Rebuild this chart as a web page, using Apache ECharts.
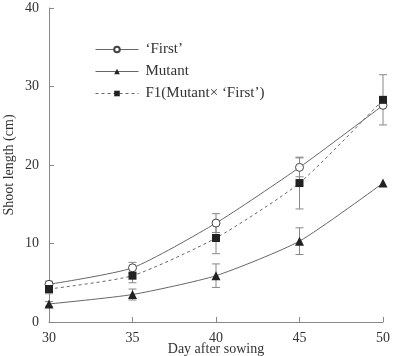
<!DOCTYPE html>
<html>
<head>
<meta charset="utf-8">
<script src="https://cdn.jsdelivr.net/npm/echarts@6/dist/echarts.min.js"></script>
<style>
  html, body { margin: 0; padding: 0; background: #fff; }
  #chart { width: 393px; height: 356px; }
</style>
</head>
<body>
<div id="chart"></div>
<script>
// days after sowing
const days = [30, 35, 40, 45, 50];
const yTicks = [0, 10, 20, 30, 40];

// shoot length (cm)
const firstVals = [4.8, 6.9, 12.6, 19.7, 27.6];
const firstErr = [0.4, 0.7, 1.2, 1.2, 0.0];
const mutantVals = [2.3, 3.5, 5.9, 10.3, 17.7];
const mutantErr = [0.3, 0.7, 1.5, 1.7, 0.0];
const f1Vals = [4.2, 5.9, 10.7, 17.7, 28.3];
const f1Err = [0.6, 0.9, 2.0, 3.3, 3.2];

const names = ['‘First’', 'Mutant', 'F1(Mutant× ‘First’)'];

const font = '"Liberation Serif", "DejaVu Serif", serif';
const lineColor = '#666';
const textColor = '#333';

function pairs(vals) {
  return days.map((d, i) => [d, vals[i]]);
}

function errData(vals, errs) {
  return days.map((d, i) => [d, vals[i] - errs[i], vals[i] + errs[i]]);
}

function errSeries(vals, errs) {
  return {
    type: 'custom',
    silent: true,
    z: 1,
    data: errData(vals, errs),
    renderItem: function (params, api) {
      const x = api.value(0);
      const lo = api.coord([x, api.value(1)]);
      const hi = api.coord([x, api.value(2)]);
      const w = 4;
      const style = { stroke: '#888', lineWidth: 1 };
      if (Math.abs(lo[1] - hi[1]) < 1) return null;
      return {
        type: 'group',
        children: [
          { type: 'line', shape: { x1: lo[0], y1: lo[1], x2: hi[0], y2: hi[1] }, style: style },
          { type: 'line', shape: { x1: lo[0] - w, y1: lo[1], x2: lo[0] + w, y2: lo[1] }, style: style },
          { type: 'line', shape: { x1: hi[0] - w, y1: hi[1], x2: hi[0] + w, y2: hi[1] }, style: style }
        ]
      };
    }
  };
}

const chart = echarts.init(document.getElementById('chart'));
chart.setOption({
  animation: false,
  textStyle: { fontFamily: font },
  grid: { left: 49, right: 10, top: 8, bottom: 34, containLabel: false, outerBoundsMode: 'none' },
  legend: {
    left: 90,
    top: 37,
    orient: 'vertical',
    itemWidth: 43,
    itemHeight: 7,
    itemGap: 7,
    lineStyle: { width: 1 },
    textStyle: { fontFamily: font, fontSize: 15, color: textColor, padding: [0, 0, 0, 2] },
    data: names
  },
  xAxis: {
    type: 'value',
    min: 30,
    max: 50,
    interval: 5,
    name: 'Day after sowing',
    nameLocation: 'middle',
    nameGap: 20,
    nameMoveOverlap: false,
    nameTextStyle: { fontFamily: font, fontSize: 14, color: textColor },
    axisLine: { lineStyle: { color: '#888' } },
    axisTick: { inside: true, length: 5, lineStyle: { color: '#888' } },
    axisLabel: { fontFamily: font, fontSize: 14, color: textColor, margin: 9 },
    splitLine: { show: false }
  },
  yAxis: {
    type: 'value',
    min: 0,
    max: 40,
    interval: 10,
    name: 'Shoot length (cm)',
    nameLocation: 'middle',
    nameGap: 33,
    nameMoveOverlap: false,
    nameTextStyle: { fontFamily: font, fontSize: 14, color: textColor },
    axisLine: { show: true, lineStyle: { color: '#888' } },
    axisTick: { show: true, inside: true, length: 5, lineStyle: { color: '#888' } },
    axisLabel: { fontFamily: font, fontSize: 14, color: textColor, margin: 10 },
    splitLine: { show: false }
  },
  series: [
    errSeries(firstVals, firstErr),
    errSeries(mutantVals, mutantErr),
    errSeries(f1Vals, f1Err),
    {
      name: names[0],
      type: 'line',
      z: 3,
      smooth: 0.2,
      data: pairs(firstVals),
      symbol: 'circle',
      symbolSize: 8,
      lineStyle: { color: lineColor, width: 1 },
      itemStyle: { color: '#fff', borderColor: '#444', borderWidth: 1 }
    },
    {
      name: names[1],
      type: 'line',
      z: 3,
      smooth: 0.2,
      data: pairs(mutantVals),
      symbol: 'triangle',
      symbolSize: 9,
      lineStyle: { color: lineColor, width: 1 },
      itemStyle: { color: '#222' }
    },
    {
      name: names[2],
      type: 'line',
      z: 3,
      smooth: 0.2,
      data: pairs(f1Vals),
      symbol: 'rect',
      symbolSize: 8,
      lineStyle: { color: lineColor, width: 1, type: [3, 3] },
      itemStyle: { color: '#222' }
    }
  ]
});
</script>
</body>
</html>
